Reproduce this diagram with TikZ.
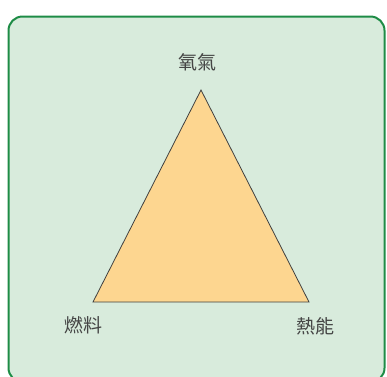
\documentclass[tikz,border=0pt]{standalone}
\usepackage{fontspec}
\newfontfamily\cjk{Noto Sans CJK TC}
\definecolor{boxfill}{HTML}{D8EBDC}
\definecolor{boxline}{HTML}{1E8C46}
\definecolor{trifill}{HTML}{FDD690}
\definecolor{labelc}{HTML}{454545}
\begin{document}
\begin{tikzpicture}[x=1pt,y=-1pt,
  lbl/.style={font=\cjk\fontsize{19}{19}\selectfont, text=labelc, inner sep=0pt}]
\useasboundingbox (0,0) rectangle (387,376);
\begin{scope}
\clip (0,0) rectangle (387,376);
\draw[boxline, line width=2pt, fill=boxfill, rounded corners=14pt] (8.5,16.5) rectangle (384.5,382);
\end{scope}
\coordinate (top) at (201,90);
\coordinate (bl) at (93,302);
\coordinate (br) at (309,302);
\draw[fill=trifill, draw=black!75, line width=0.8pt, line join=miter] (top) -- (br) -- (bl) -- cycle;
\node[lbl] (oxy) at (197,62) {氧氣};
\node[lbl] (fuel) at (83,325) {燃料};
\node[lbl] (heat) at (315,326) {熱能};
\end{tikzpicture}
\end{document}
